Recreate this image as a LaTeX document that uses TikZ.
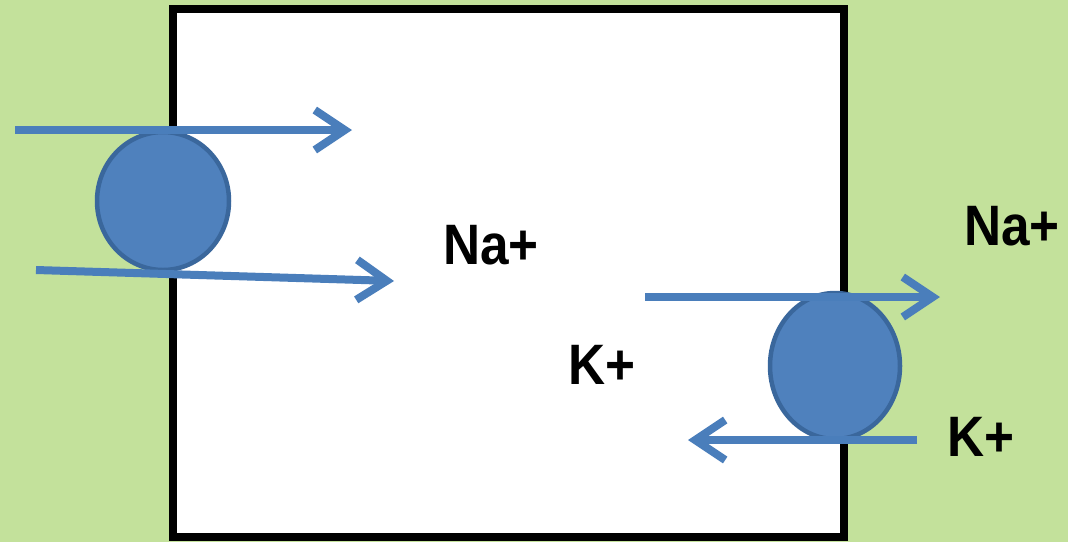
\documentclass[tikz,border=0pt]{standalone}
\usepackage{fontspec}
\setmainfont{Liberation Sans}
\usetikzlibrary{arrows.meta,shapes.geometric}
\definecolor{bggreen}{HTML}{C3E19B}
\definecolor{pumpfill}{HTML}{4F81BD}
\definecolor{pumpedge}{HTML}{3A679C}
\definecolor{flow}{HTML}{4A7EBB}
\newcommand{\ionlabel}[1]{\scalebox{0.9}[1]{#1}}
\tikzset{
  pump/.style={ellipse, draw=pumpedge, line width=4.5pt, fill=pumpfill,
    minimum width=132pt, minimum height=138pt, inner sep=0pt},
  flowarrow/.style={draw=flow, line width=8pt,
    -{Straight Barb[length=30pt, width=40pt, line width=8pt]}},
  ion/.style={font=\bfseries\fontsize{57}{62}\selectfont, inner sep=0pt, text=black}
}
\begin{document}
\begin{tikzpicture}[x=1pt, y=-1pt]
  % extracellular background
  \fill[bggreen] (0,0) rectangle (1068,542);
  \useasboundingbox (0,0) rectangle (1068,542);
  % cell
  \draw[line width=8pt, fill=white] (173,9) rectangle (844,537);

  % pumps in the membrane
  \node[pump] (pumpL) at (163,201) {};
  \node[pump, minimum width=130pt, minimum height=146pt] (pumpR) at (835,366) {};

  % arrow end points
  \coordinate (aL1s) at (15,130);
  \coordinate (aL1e) at (352,130);
  \coordinate (aL2s) at (36,270);
  \coordinate (aL2e) at (394,281);
  \coordinate (aR1s) at (645,297);
  \coordinate (aR1e) at (940,297);
  \coordinate (aR2s) at (917,440);
  \coordinate (aR2e) at (688,440);

  \draw[flowarrow] (aL1s) -- (aL1e);
  \draw[flowarrow] (aL2s) -- (aL2e);
  \draw[flowarrow] (aR1s) -- (aR1e);
  \draw[flowarrow] (aR2s) -- (aR2e);

  % ion labels
  \node[ion] (naIn) at (491,245) {\ionlabel{Na+}};
  \node[ion] (kIn) at (602,365) {\ionlabel{K+}};
  \node[ion] (naOut) at (1012,226) {\ionlabel{Na+}};
  \node[ion] (kOut) at (981,437) {\ionlabel{K+}};
\end{tikzpicture}
\end{document}
